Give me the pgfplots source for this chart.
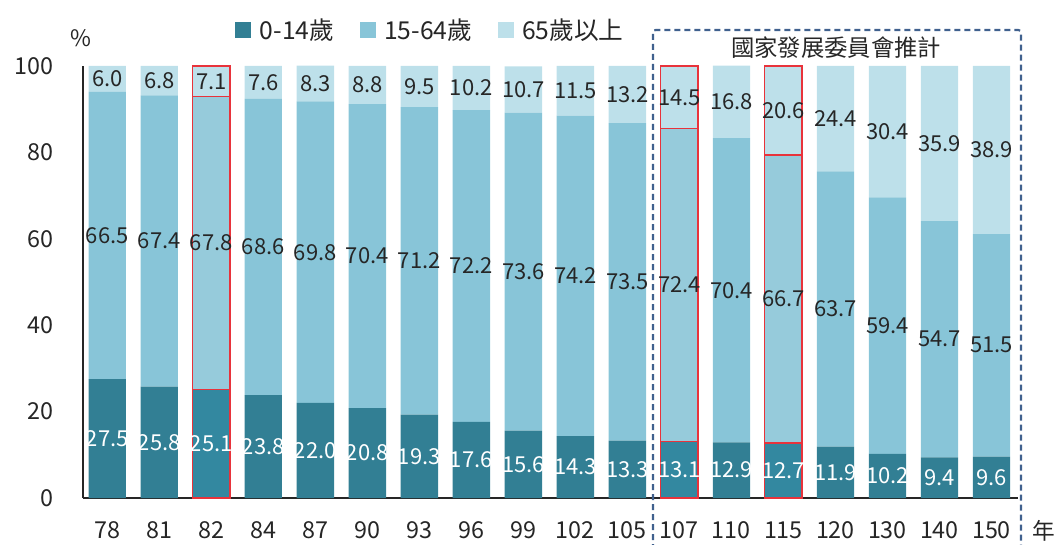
\documentclass[border=0pt]{standalone}
\usepackage{fontspec}
\setmainfont{Noto Sans CJK TC}
\usepackage{pgfplots}
\usepackage{pgfplotstable}
\pgfplotsset{compat=1.18}
\definecolor{cA}{HTML}{327F94}
\definecolor{cB}{HTML}{88C5D8}
\definecolor{cC}{HTML}{BDE0EA}
\definecolor{hA}{HTML}{3388A0}
\definecolor{hB}{HTML}{96CBDB}
\definecolor{hC}{HTML}{BDE0EA}
\definecolor{hred}{HTML}{E8333B}
\definecolor{boxc}{HTML}{40618E}
\definecolor{txt}{HTML}{262626}

\pgfplotstableread{
x yr a b c
0 78 27.5 66.5 6.0
1 81 25.8 67.4 6.8
2 82 25.1 67.8 7.1
3 84 23.8 68.6 7.6
4 87 22.0 69.8 8.3
5 90 20.8 70.4 8.8
6 93 19.3 71.2 9.5
7 96 17.6 72.2 10.2
8 99 15.6 73.6 10.7
9 102 14.3 74.2 11.5
10 105 13.3 73.5 13.2
11 107 13.1 72.4 14.5
12 110 12.9 70.4 16.8
13 115 12.7 66.7 20.6
14 120 11.9 63.7 24.4
15 130 10.2 59.4 30.4
16 140 9.4 54.7 35.9
17 150 9.6 51.5 38.9
}\data

\pgfplotstableread{
x a b c
2 25.1 67.8 7.1
11 13.1 72.4 14.5
13 12.7 66.7 20.6
}\hilite

\pgfplotsset{
  common/.style={
    at={(62.25pt,34.5pt)}, anchor=south west,
    scale only axis, width=701.25pt, height=324pt,
    xmin=-0.467, xmax=17.51, ymin=0, ymax=100,
    ybar stacked, bar width=28pt,
    clip=false,
  },
}

\begin{document}
\begin{tikzpicture}
\useasboundingbox (0,0) rectangle (793.5pt,408pt);

% main bars
\begin{axis}[common,
  axis x line*=bottom, axis y line*=left,
  axis line style={line width=1.5pt, -, txt},
  major tick length=0pt,
  xtick={0,...,17},
  xticklabels from table={\data}{yr},
  ytick={0,20,40,60,80,100},
  /pgf/number format/assume math mode=true,
  tick label style={font=\fontsize{17.5pt}{20pt}\selectfont, text=txt},
  xticklabel style={anchor=center, yshift=-24pt, inner sep=0pt},
  yticklabel style={anchor=east, xshift=-22pt, inner sep=0pt},
  legend style={at={(0.372,1.084)}, anchor=center, draw=none, fill=none,
    legend columns=3, font=\fontsize{18.5pt}{21pt}\selectfont, text=txt,
    /tikz/every odd column/.append style={column sep=4.5pt},
    /tikz/every even column/.append style={column sep=17pt},
    legend cell align=left, inner sep=0pt},
  legend image code/.code={\fill[#1] (0pt,-6pt) rectangle (12pt,6pt);},
]
\addplot[fill=cA, draw=none] table[x=x, y=a] {\data};
\addlegendentry{0-14歲}
\addplot[fill=cB, draw=none] table[x=x, y=b] {\data};
\addlegendentry{15-64歲}
\addplot[fill=cC, draw=none] table[x=x, y=c] {\data};
\addlegendentry{65歲以上}
\end{axis}

% highlighted bars
\begin{axis}[common, hide axis]
\addplot[fill=hA, draw=hred, line width=1pt] table[x=x, y=a] {\hilite};
\addplot[fill=hB, draw=hred, line width=1pt] table[x=x, y=b] {\hilite};
\addplot[fill=hC, draw=hred, line width=1pt] table[x=x, y=c] {\hilite};
\end{axis}

% labels (nodes near coords of stacked bars sit at the segment centres here)
\begin{axis}[common, hide axis,
  /pgf/number format/assume math mode=true,
  nodes near coords={\pgfmathprintnumber[fixed,fixed zerofill,precision=1,assume math mode=true]{\pgfplotspointmeta}},
  every node near coord/.append style={anchor=center, inner sep=0pt,
     font=\fontsize{16.5pt}{19pt}\selectfont},
]
\addplot[fill=none, draw=none, point meta=explicit,
  every node near coord/.append style={text=white}]
  table[x=x, y=a, meta=a] {\data};
\addplot[fill=none, draw=none, point meta=explicit,
  every node near coord/.append style={text=txt}]
  table[x=x, y=b, meta=b] {\data};
\addplot[fill=none, draw=none, point meta=explicit,
  every node near coord/.append style={text=txt}]
  table[x=x, y=c, meta=c] {\data};
\end{axis}

% projection box
\draw[boxc, line width=1.6pt, dash pattern=on 4.5pt off 3pt, rounded corners=2pt]
  (489.75pt,-12pt) -- (489.75pt,385.5pt) -- (765.75pt,385.5pt) -- (765.75pt,-12pt);
\node[text=txt, font=\fontsize{17.5pt}{20pt}\selectfont] at (627pt,372pt) {國家發展委員會推計};
\node[text=txt, font=\fontsize{17pt}{20pt}\selectfont] at (60.75pt,379pt) {\%};
\node[text=txt, font=\fontsize{17pt}{20pt}\selectfont] at (783pt,9.75pt) {年};
\end{tikzpicture}
\end{document}
